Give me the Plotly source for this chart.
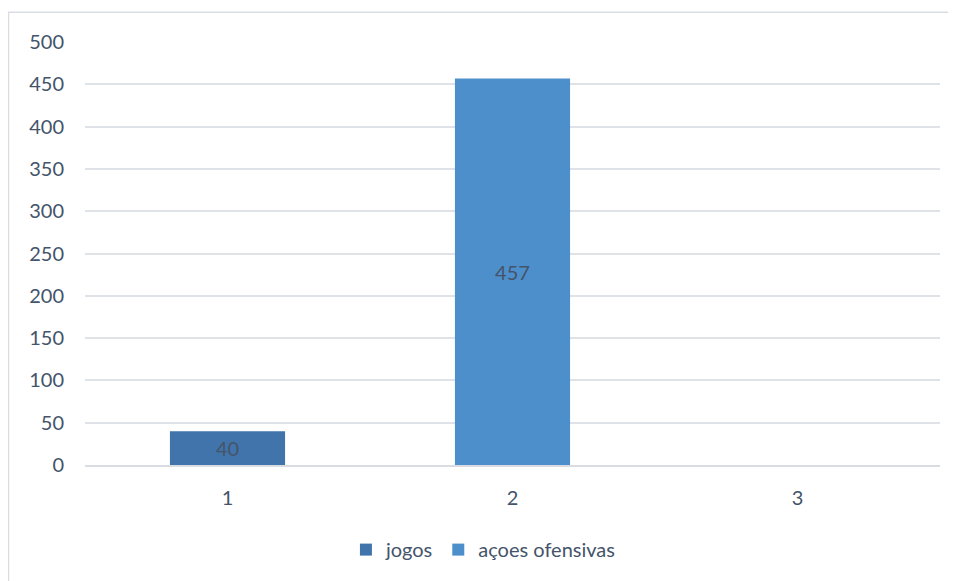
import plotly.graph_objects as go

categories = ["1", "2", "3"]
jogos = [40, None, None]
acoes_ofensivas = [None, 457, None]
y_ticks = [0, 50, 100, 150, 200, 250, 300, 350, 400, 450, 500]

text_color = "#44546a"
font_family = "Lato, 'Open Sans', sans-serif"
fs = 20

fig = go.Figure()
fig.add_trace(go.Bar(
    x=categories, y=jogos, name="jogos",
    marker=dict(color="#4174aa", line=dict(width=0)),
    width=0.404,
    text=[str(v) if v is not None else "" for v in jogos],
    textposition="inside", insidetextanchor="middle",
    textfont=dict(color=text_color, size=fs, family=font_family),
))
fig.add_trace(go.Bar(
    x=categories, y=acoes_ofensivas, name="açoes ofensivas",
    marker=dict(color="#4d8fcb", line=dict(width=0)),
    width=0.404,
    text=[str(v) if v is not None else "" for v in acoes_ofensivas],
    textposition="inside", insidetextanchor="middle",
    textfont=dict(color=text_color, size=fs, family=font_family),
))

fig.update_layout(
    width=956, height=581,
    margin=dict(l=77, r=24, t=34, b=124),
    paper_bgcolor="white", plot_bgcolor="white",
    barmode="overlay",
    font=dict(family=font_family, color=text_color, size=fs),
    showlegend=True,
    legend=dict(orientation="h", x=0.466, xanchor="center", y=-0.2, yanchor="middle",
                font=dict(size=fs, color=text_color), itemwidth=30, traceorder="normal"),
    xaxis=dict(type="category", categoryorder="array", categoryarray=categories,
               range=[-0.5, 2.5], showgrid=False, zeroline=False, showline=True,
               linecolor="#d9dde3", linewidth=1.5, ticks="",
               ticklabelstandoff=14,
               tickfont=dict(size=fs, color=text_color)),
    yaxis=dict(range=[0, 500], tickvals=y_ticks, showgrid=True, gridcolor="#dfe3e8",
               gridwidth=1.5, zeroline=False, showline=False, ticks="",
               ticklabelstandoff=20,
               tickfont=dict(size=fs, color=text_color)),
)

fig.add_shape(type="rect", xref="paper", yref="paper",
              x0=-0.0895, y0=-1.0, x1=1.5, y1=1.0705,
              line=dict(color="#d9dde3", width=1.5), fillcolor="rgba(0,0,0,0)", layer="below")

fig.write_html("out.html")
